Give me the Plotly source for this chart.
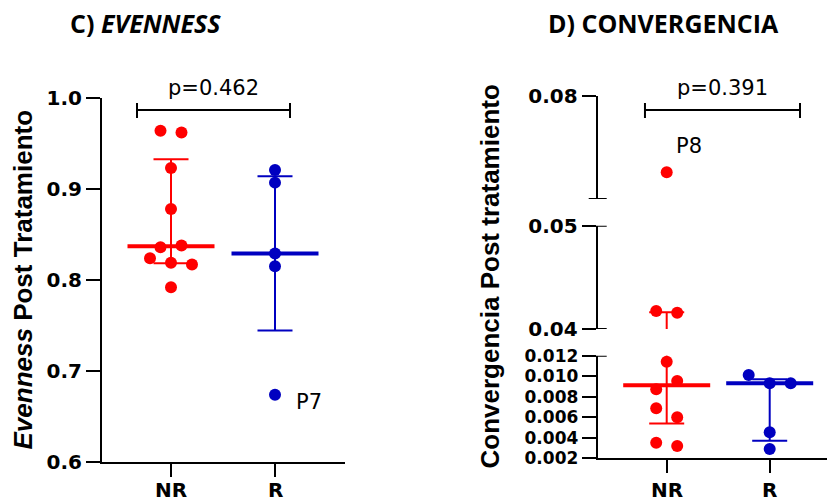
import numpy as np
import plotly.graph_objects as go

# ---------------- data ----------------
categories = ["NR", "R"]

evenness_nr = [0.964, 0.962, 0.923, 0.878, 0.836, 0.838, 0.824, 0.819, 0.817, 0.792]
evenness_r = [0.921, 0.907, 0.829, 0.815, 0.674]
evenness_labels_r = ["", "", "", "", "P7"]
evenness_p = "p=0.462"
evenness_ticks = [0.6, 0.7, 0.8, 0.9, 1.0]
evenness_ticktext = ["0.6", "0.7", "0.8", "0.9", "1.0"]

conv_nr = [0.0578, 0.04174, 0.04158, 0.01142, 0.00872, 0.00953, 0.00687, 0.0060, 0.00352, 0.0032]
conv_labels_nr = ["P8", "", "", "", "", "", "", "", "", ""]
conv_r = [0.01012, 0.00931, 0.00931, 0.00453, 0.00291]
conv_p = "p=0.391"
# broken axis segments (low, high) and their tick values
conv_segments = [(0.002, 0.012), (0.04, 0.05), (0.05, 0.08)]
conv_seg_ticks = [[0.002, 0.004, 0.006, 0.008, 0.010, 0.012], [0.04, 0.05], [0.08]]
conv_seg_ticktext = [["0.002", "0.004", "0.006", "0.008", "0.010", "0.012"], ["0.04", "0.05"], ["0.08"]]

# ---------------- layout constants (pixels) ----------------
W, H = 827, 504
RED = "#FF0000"
BLUE = "#0000C0"
TICKFONT = dict(family="DejaVu Sans", size=20, color="black", weight=700)
TICKFONT_SMALL = dict(family="DejaVu Sans", size=17, color="black", weight=700)


def px(x):
    return x / W


def py(y):
    return 1 - y / H


# left panel
L_X0, L_X1 = 102, 345
L_Y0, L_Y1 = 462, 98
L_NR, L_UNIT = 171, 104
l_xrange = [-(L_NR - L_X0) / L_UNIT, (L_X1 - L_NR) / L_UNIT]

# right panel
R_X0, R_X1 = 597.7, 827
R_NR, R_UNIT = 666.7, 103
r_xrange = [-(R_NR - R_X0) / R_UNIT, (R_X1 - R_NR) / R_UNIT]
R_SEG_PX = [(458.3, 355.7), (329.0, 225.7), (199.0, 95.7)]


def make_map(lo, hi, p0, p1):
    return lambda v: p0 - (v - lo) / (hi - lo) * (p0 - p1)


def conv_px(v):
    for (lo, hi), (p0, p1) in zip(conv_segments, R_SEG_PX):
        if lo <= v <= hi:
            return make_map(lo, hi, p0, p1)(v)
    return 0.0


def swarm(vals, to_px, unit, thresh=12.0, step=21.0):
    """Spread points horizontally in rows (scatter dot plot)."""
    n = len(vals)
    pxs = [to_px(v) for v in vals]
    order = sorted(range(n), key=lambda i: pxs[i])
    rows, cur, start = [], [order[0]], pxs[order[0]]
    for i in order[1:]:
        if pxs[i] - start < thresh:
            cur.append(i)
        else:
            rows.append(cur)
            cur, start = [i], pxs[i]
    rows.append(cur)
    off = [0.0] * n
    for row in rows:
        row = sorted(row)
        m = len(row)
        for k, i in enumerate(row):
            off[i] = (k - (m - 1) / 2) * step / unit
    return off


def stats(vals):
    q1, q3 = np.percentile(vals, [25, 75], method="weibull")
    return float(np.median(vals)), float(q1), float(q3)


fig = go.Figure()

MED_HALF = 43.5
CAP_HALF = 17.5


def add_group(vals, center, color, xa, ya_list, to_px, unit, seg_ranges=None):
    med, q1, q3 = stats(vals)
    offs = swarm(vals, to_px, unit)
    xs = [center + o for o in offs]
    mh = MED_HALF / unit
    ch = CAP_HALF / unit
    for si, ya in enumerate(ya_list):
        # error bar (interquartile range)
        fig.add_trace(go.Scatter(x=[center, center], y=[q1, q3], mode="lines",
                                 line=dict(color=color, width=2), xaxis=xa, yaxis=ya,
                                 showlegend=False, hoverinfo="skip"))
        for q in (q1, q3):
            fig.add_trace(go.Scatter(x=[center - ch, center + ch], y=[q, q], mode="lines",
                                     line=dict(color=color, width=2), xaxis=xa, yaxis=ya,
                                     showlegend=False, hoverinfo="skip"))
        # points
        if seg_ranges is None:
            idx = list(range(len(vals)))
        else:
            lo, hi = seg_ranges[si]
            idx = [i for i, v in enumerate(vals) if lo <= v <= hi]
        if idx:
            fig.add_trace(go.Scatter(x=[xs[i] for i in idx], y=[vals[i] for i in idx], mode="markers",
                                     marker=dict(color=color, size=12, line=dict(width=0)),
                                     xaxis=xa, yaxis=ya, cliponaxis=False,
                                     showlegend=False))
        # median
        fig.add_trace(go.Scatter(x=[center - mh, center + mh], y=[med, med], mode="lines",
                                 line=dict(color=color, width=4), xaxis=xa, yaxis=ya,
                                 showlegend=False, hoverinfo="skip"))
    return xs


ev_map = make_map(0.6, 1.0, L_Y0, L_Y1)
add_group(evenness_nr, 0, RED, "x", ["y"], ev_map, L_UNIT)
ev_r_x = add_group(evenness_r, 1, BLUE, "x", ["y"], ev_map, L_UNIT)

conv_nr_x = add_group(conv_nr, 0, RED, "x2", ["y2", "y3", "y4"], conv_px, R_UNIT, seg_ranges=conv_segments)
add_group(conv_r, 1, BLUE, "x2", ["y2", "y3", "y4"], conv_px, R_UNIT, seg_ranges=conv_segments)

axis_common = dict(showgrid=False, zeroline=False, showline=True, linecolor="black", linewidth=2,
                   ticks="outside", tickcolor="black", tickwidth=2, automargin=False)

fig.update_layout(
    width=W, height=H, margin=dict(l=0, r=0, t=0, b=0, pad=0, autoexpand=False),
    paper_bgcolor="white", plot_bgcolor="white", showlegend=False,
    xaxis=dict(domain=[px(L_X0), px(L_X1)], range=l_xrange, tickvals=[0, 1], showticklabels=False,
               ticklen=13, anchor="y", **axis_common),
    yaxis=dict(domain=[py(L_Y0), py(L_Y1)], range=[0.6, 1.0], tickvals=evenness_ticks,
               ticktext=evenness_ticktext, ticklen=14, anchor="x", tickfont=TICKFONT, **axis_common),
    xaxis2=dict(domain=[px(R_X0), px(R_X1)], range=r_xrange, tickvals=[0, 1], showticklabels=False,
                ticklen=13, anchor="y2", **axis_common),
)
for k, (name, (lo, hi), (p0, p1)) in enumerate(zip(["yaxis2", "yaxis3", "yaxis4"], conv_segments, R_SEG_PX)):
    fig.update_layout({name: dict(domain=[py(p0), py(p1)], range=[lo, hi], tickvals=conv_seg_ticks[k],
                                  ticktext=conv_seg_ticktext[k], ticklen=14, anchor="x2",
                                  tickfont=TICKFONT_SMALL if k == 0 else TICKFONT, **axis_common)})

shapes = []
line_k = dict(color="black", width=2)
# broken-axis caps
cap = 9 / (R_X1 - R_X0)
for yref, val in [("y2", conv_segments[0][1]), ("y3", conv_segments[1][0]), ("y3", conv_segments[1][1]),
                  ("y4", conv_segments[2][0])]:
    shapes.append(dict(type="line", xref="x2 domain", yref=yref, x0=-cap, x1=cap, y0=val, y1=val, line=line_k))

# significance brackets
BR_Y, BR_T0, BR_T1 = 110, 103, 118
for xref, xa, xb in [("x", -0.327, 1.144), ("x2", -0.211, 1.294)]:
    shapes.append(dict(type="line", xref=xref, yref="paper", x0=xa, x1=xb, y0=py(BR_Y), y1=py(BR_Y), line=line_k))
    for xx in (xa, xb):
        shapes.append(dict(type="line", xref=xref, yref="paper", x0=xx, x1=xx, y0=py(BR_T0), y1=py(BR_T1), line=line_k))
fig.update_layout(shapes=shapes)

ann = []
# category labels under the x axes
for xref in ("x", "x2"):
    for i, cat in enumerate(categories):
        ann.append(dict(text=cat, xref=xref, yref="paper", x=i, y=0, yshift=1, borderpad=0,
                        showarrow=False, font=TICKFONT, xanchor="center", yanchor="bottom"))
pfont = dict(family="DejaVu Sans", size=21, color="black")
ann.append(dict(text=evenness_p, xref="x", yref="paper", x=(-0.327 + 1.144) / 2, y=py(88),
                showarrow=False, font=pfont, xanchor="center", yanchor="middle"))
ann.append(dict(text=conv_p, xref="x2", yref="paper", x=(-0.211 + 1.294) / 2, y=py(88),
                showarrow=False, font=pfont, xanchor="center", yanchor="middle"))
# point labels
for i, lab in enumerate(evenness_labels_r):
    if lab:
        ann.append(dict(text=lab, xref="x", yref="y", x=ev_r_x[i], y=evenness_r[i], xshift=19, yshift=-7,
                        showarrow=False, font=pfont, xanchor="left", yanchor="middle"))
for i, lab in enumerate(conv_labels_nr):
    if lab:
        ann.append(dict(text=lab, xref="x2", yref="y4", x=conv_nr_x[i], y=conv_nr[i], xshift=22, yshift=26,
                        showarrow=False, font=pfont, xanchor="center", yanchor="middle"))
# titles
tfont = dict(family="Open Sans", size=25, color="black")
ann.append(dict(text="<b>C) <i>EVENNESS</i></b>", xref="paper", yref="paper", x=px(145), y=py(23),
                showarrow=False, font=tfont, xanchor="center", yanchor="middle"))
ann.append(dict(text="<b>D) CONVERGENCIA</b>", xref="paper", yref="paper", x=px(663), y=py(23),
                showarrow=False, font=tfont, xanchor="center", yanchor="middle"))
# y-axis titles
yfont = dict(family="Liberation Sans", size=26, color="black")
ann.append(dict(text="<b><i>Evenness</i> Post Tratamiento</b>", xref="paper", yref="paper", x=px(22.5), y=py(280),
                textangle=-90, showarrow=False, font=yfont, xanchor="center", yanchor="middle"))
ann.append(dict(text="<b>Convergencia Post tratamiento</b>", xref="paper", yref="paper", x=px(489), y=py(276.5),
                textangle=-90, showarrow=False, font=yfont, xanchor="center", yanchor="middle"))
fig.update_layout(annotations=ann)

fig.write_html("out.html")
